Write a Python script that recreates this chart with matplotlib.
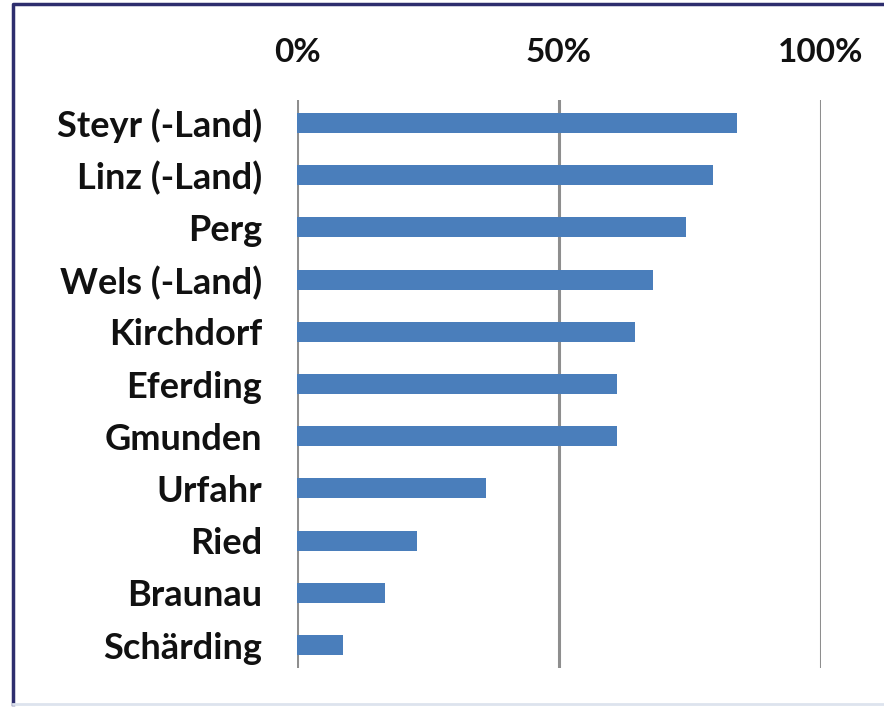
import matplotlib.pyplot as plt
from matplotlib.lines import Line2D

# Share of area per district
districts = ["Steyr (-Land)", "Linz (-Land)", "Perg", "Wels (-Land)", "Kirchdorf",
             "Eferding", "Gmunden", "Urfahr", "Ried", "Braunau", "Schärding"]
shares = [84.0, 79.4, 74.2, 67.9, 64.5, 61.1, 61.1, 36.1, 22.9, 16.8, 8.8]
xticks = [0, 50, 100]
xticklabels = ["0%", "50%", "100%"]

plt.rcParams['font.family'] = ['Lato', 'DejaVu Sans']

fig = plt.figure(figsize=(8.84, 7.08), dpi=100)
ax = fig.add_axes([297 / 884, 1 - 668 / 708, (821 - 297) / 884, 568 / 708])

ypos = list(range(len(districts)))
ax.barh(ypos, shares, height=0.38, color="#4a7ebb", zorder=3)

ax.set_xlim(0, 100)
ax.set_ylim(len(districts) - 1 + 0.44, -0.44)

ax.set_yticks(ypos)
ax.set_yticklabels(districts, fontsize=26, fontweight="bold", color="#111111")
ax.xaxis.tick_top()
ax.set_xticks(xticks)
ax.set_xticklabels(xticklabels, fontsize=24, fontweight="bold", color="#111111")
ax.tick_params(axis="both", length=0)
ax.tick_params(axis="x", pad=24)
ax.tick_params(axis="y", pad=25)

ax.grid(axis="x", color="#8e8e8e", linewidth=2.2, zorder=0)
for s in ax.spines.values():
    s.set_visible(False)

# outer frame of the chart: navy left/top, faint bottom
x0, y0, y1 = 13 / 884, 4 / 708, 1 - 4 / 708
fig.add_artist(Line2D([x0, x0, 1.0], [y0, y1, y1], transform=fig.transFigure,
                      color="#2e2e6e", linewidth=2.5))
fig.add_artist(Line2D([x0, 1.0], [y0, y0], transform=fig.transFigure,
                      color="#dde3ee", linewidth=2))

fig.savefig("out.png", dpi=100)
